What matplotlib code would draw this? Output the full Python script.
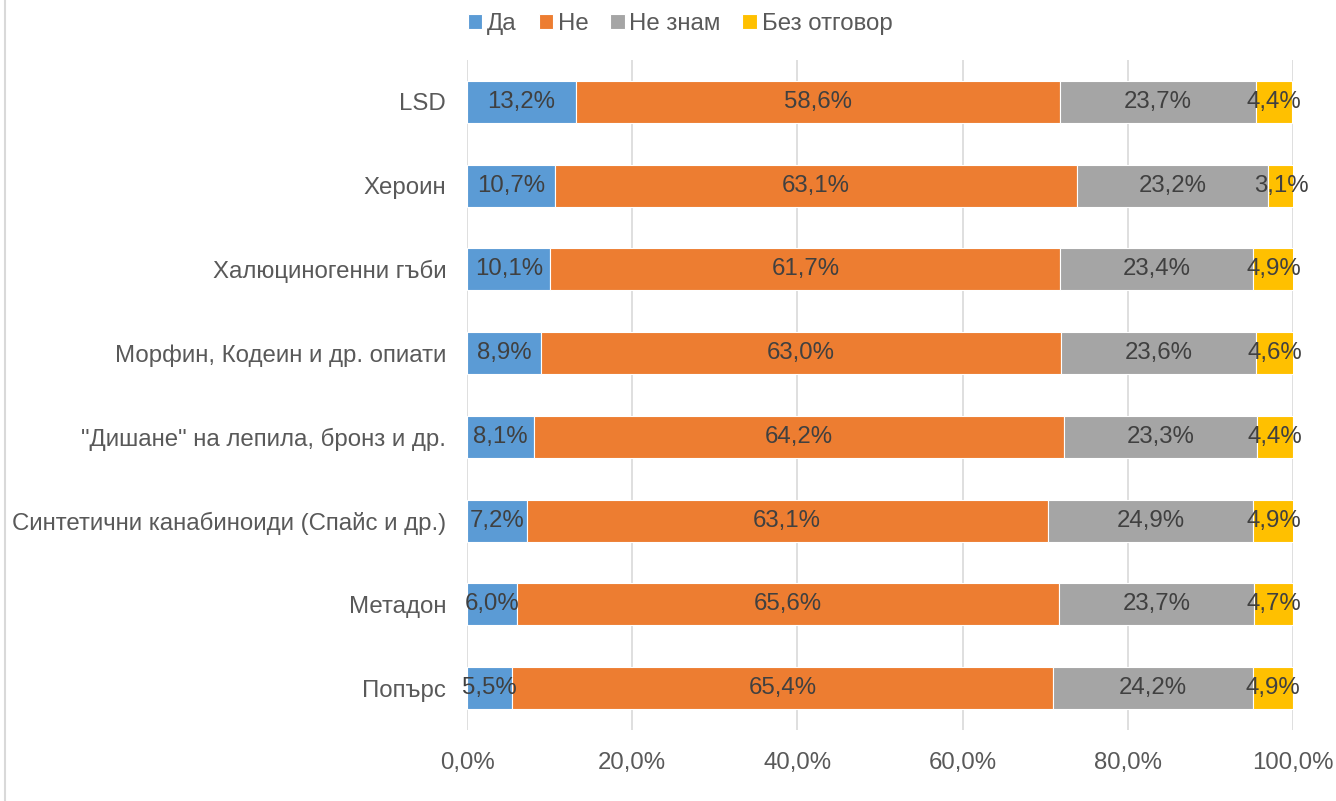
import matplotlib.pyplot as plt
import numpy as np

plt.rcParams['font.family'] = ['Liberation Sans', 'DejaVu Sans']

categories = ['LSD', 'Хероин', 'Халюциногенни гъби', 'Морфин, Кодеин и др. опиати',
              '"Дишане" на лепила, бронз и др.', 'Синтетични канабиноиди (Спайс и др.)',
              'Метадон', 'Попърс']
da = [13.2, 10.7, 10.1, 8.9, 8.1, 7.2, 6.0, 5.5]
ne = [58.6, 63.1, 61.7, 63.0, 64.2, 63.1, 65.6, 65.4]
ne_znam = [23.7, 23.2, 23.4, 23.6, 23.3, 24.9, 23.7, 24.2]
bez = [4.4, 3.1, 4.9, 4.6, 4.4, 4.9, 4.7, 4.9]
series_names = ['Да', 'Не', 'Не знам', 'Без отговор']
colors = ['#5B9BD5', '#ED7D31', '#A5A5A5', '#FFC000']
ticks = [0, 20, 40, 60, 80, 100]

fig = plt.figure(figsize=(13.36, 8.01), dpi=100)
ax = fig.add_axes([0.3496, 0.0886, 0.6183, 0.8365])

y = np.arange(len(categories))
left = np.zeros(len(categories))
for vals, name, col in zip([da, ne, ne_znam, bez], series_names, colors):
    vals = np.array(vals)
    ax.barh(y, vals, left=left, height=0.5, color=col, edgecolor='white',
            linewidth=0.8, label=name, zorder=3)
    for yi, l, v in zip(y, left, vals):
        ax.text(l + v / 2, yi, f'{v:.1f}%'.replace('.', ','), ha='center', va='center',
                fontsize=17.3, color='#404040', zorder=4)
    left = left + vals

ax.set_xlim(0, 100)
ax.set_ylim(len(categories) - 0.5, -0.5)
ax.set_yticks(y)
ax.set_yticklabels(categories)
ax.set_xticks(ticks)
ax.set_xticklabels([f'{t:.1f}%'.replace('.', ',') for t in ticks])
ax.tick_params(axis='both', length=0, labelsize=17.3, colors='#595959')
ax.tick_params(axis='x', pad=16)
ax.tick_params(axis='y', pad=15)
ax.grid(axis='x', color='#D9D9D9', linewidth=1.2, zorder=0)
for s in ax.spines.values():
    s.set_visible(False)

ax.legend(loc='center', bbox_to_anchor=(0.258, 1.054), ncol=4, frameon=False,
          fontsize=17.3, handlelength=0.6, handleheight=0.6, handletextpad=0.2,
          columnspacing=0.9, labelcolor='#595959')

fig.add_artist(plt.Line2D([0.004, 0.004], [0, 1], color='#D9D9D9', linewidth=1.5))

fig.savefig('out.png', dpi=100)
